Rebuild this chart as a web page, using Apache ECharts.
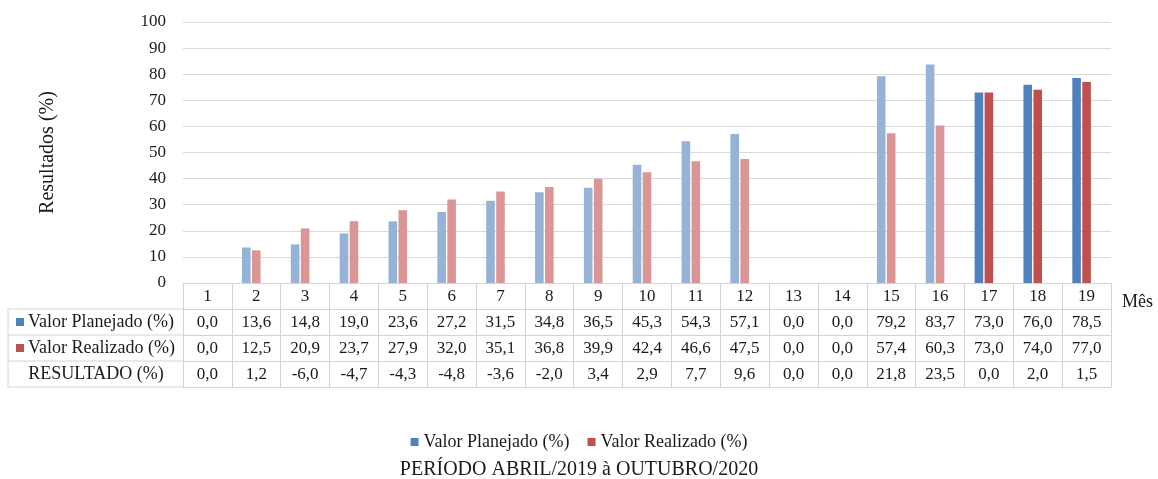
<!DOCTYPE html>
<html>
<head>
<meta charset="utf-8">
<script src="https://cdn.jsdelivr.net/npm/echarts@6/dist/echarts.min.js"></script>
<style>
  html, body { margin: 0; padding: 0; background: #fff; }
  #chart { width: 1158px; height: 479px; }
</style>
</head>
<body>
<div id="chart"></div>
<script>
var meses = ['1','2','3','4','5','6','7','8','9','10','11','12','13','14','15','16','17','18','19'];
var planejado = [0.0, 13.6, 14.8, 19.0, 23.6, 27.2, 31.5, 34.8, 36.5, 45.3, 54.3, 57.1, 0.0, 0.0, 79.2, 83.7, 73.0, 76.0, 78.5];
var realizado = [0.0, 12.5, 20.9, 23.7, 27.9, 32.0, 35.1, 36.8, 39.9, 42.4, 46.6, 47.5, 0.0, 0.0, 57.4, 60.3, 73.0, 74.0, 77.0];
var resultado = [0.0, 1.2, -6.0, -4.7, -4.3, -4.8, -3.6, -2.0, 3.4, 2.9, 7.7, 9.6, 0.0, 0.0, 21.8, 23.5, 0.0, 2.0, 1.5];
var yTicks = [0, 10, 20, 30, 40, 50, 60, 70, 80, 90, 100];

var FONT = '"Liberation Serif", "Times New Roman", serif';
var AZUL = '#4F81BD', AZUL_CLARO = '#95B3D7';
var VERMELHO = '#C0504D', VERMELHO_CLARO = '#D99694';
var LINHA = '#d4d4d4';
var TXT = '#1a1a1a';

var gridLeft = 183, gridTop = 22, rowH = 26, axisY = 283;

function fmt(v) { return v.toFixed(1).replace('.', ','); }

// meses 17-19 em cor cheia, demais em tom claro
function pinta(vals, forte, claro) {
  return vals.map(function(v, i) {
    return { value: v, itemStyle: { color: i >= 16 ? forte : claro } };
  });
}

function linhaTabela(offset, labels) {
  return {
    type: 'category', data: meses, position: 'bottom', offset: offset, gridIndex: 0,
    axisLine: { show: true, lineStyle: { color: LINHA, width: 1 } },
    axisTick: { show: false },
    axisLabel: labels ? {
      show: true, margin: 5, fontFamily: FONT, fontSize: 17, color: TXT,
      interval: 0,
      formatter: function(v, i) { return labels[i]; }
    } : { show: false }
  };
}

var rowHeaders = [
  { text: 'Valor Planejado (%)', cor: AZUL },
  { text: 'Valor Realizado (%)', cor: VERMELHO },
  { text: 'RESULTADO (%)', cor: null }
];

var graphics = [];
// bordas da coluna de títulos das linhas
[1, 2, 3, 4].forEach(function(k) {
  graphics.push({ type: 'line', shape: { x1: 8, y1: axisY + k * rowH, x2: gridLeft, y2: axisY + k * rowH },
    style: { stroke: LINHA, lineWidth: 1 } });
});
graphics.push({ type: 'line', shape: { x1: 8, y1: axisY + rowH, x2: 8, y2: axisY + 4 * rowH },
  style: { stroke: LINHA, lineWidth: 1 } });
rowHeaders.forEach(function(h, k) {
  var cy = axisY + (k + 1) * rowH + rowH / 2;
  if (h.cor) {
    graphics.push({ type: 'rect', shape: { x: 16, y: cy - 4, width: 8, height: 8 }, style: { fill: h.cor } });
    graphics.push({ type: 'text', x: 28, y: cy, style: { text: h.text, font: '18px ' + FONT, fill: TXT, verticalAlign: 'middle' } });
  } else {
    graphics.push({ type: 'text', x: 96, y: cy, style: { text: h.text, font: '18px ' + FONT, fill: TXT, verticalAlign: 'middle', align: 'center' } });
  }
});

var chart = echarts.init(document.getElementById('chart'));
chart.setOption({
  backgroundColor: '#fff',
  animation: false,
  title: {
    text: 'PERÍODO ABRIL/2019 à OUTUBRO/2020',
    left: 'center', top: 455,
    textStyle: { fontFamily: FONT, fontSize: 20, fontWeight: 'normal', color: TXT }
  },
  legend: {
    data: ['Valor Planejado (%)', 'Valor Realizado (%)'],
    top: 428, left: 'center',
    icon: 'rect', itemWidth: 8, itemHeight: 8, itemGap: 18,
    textStyle: { fontFamily: FONT, fontSize: 18, color: TXT }
  },
  grid: { left: gridLeft, right: 47, top: gridTop, bottom: 479 - axisY },
  xAxis: [
    {
      type: 'category', data: meses, position: 'bottom',
      name: 'Mês', nameLocation: 'end', nameGap: 11,
      nameTextStyle: { fontFamily: FONT, fontSize: 18, color: TXT, verticalAlign: 'top', padding: [10, 0, 0, 0] },
      axisLine: { show: true, lineStyle: { color: LINHA, width: 1 } },
      axisTick: { show: true, length: 4 * rowH, lineStyle: { color: LINHA } },
      axisLabel: { margin: 5, fontFamily: FONT, fontSize: 17, color: TXT, interval: 0 }
    },
    linhaTabela(rowH, planejado.map(fmt)),
    linhaTabela(2 * rowH, realizado.map(fmt)),
    linhaTabela(3 * rowH, resultado.map(fmt)),
    linhaTabela(4 * rowH, null)
  ],
  yAxis: {
    type: 'value', min: yTicks[0], max: yTicks[yTicks.length - 1], interval: 10,
    name: 'Resultados (%)', nameLocation: 'middle', nameGap: 125,
    nameTextStyle: { fontFamily: FONT, fontSize: 20, color: TXT },
    axisLine: { show: false }, axisTick: { show: false },
    axisLabel: { margin: 17, fontFamily: FONT, fontSize: 17, color: TXT },
    splitLine: { lineStyle: { color: '#d9d9d9', width: 1 } }
  },
  series: [
    { name: 'Valor Planejado (%)', type: 'bar', xAxisIndex: 0, barWidth: 8.6, barGap: '16%',
      itemStyle: { color: AZUL }, data: pinta(planejado, AZUL, AZUL_CLARO) },
    { name: 'Valor Realizado (%)', type: 'bar', xAxisIndex: 0, barWidth: 8.6, barGap: '16%',
      itemStyle: { color: VERMELHO }, data: pinta(realizado, VERMELHO, VERMELHO_CLARO) },
    // série RESULTADO: só aparece na tabela, sem preenchimento
    { name: 'RESULTADO (%)', type: 'bar', xAxisIndex: 0, barWidth: 8.6, barGap: '16%',
      itemStyle: { color: 'rgba(0,0,0,0)' }, data: resultado, silent: true }
  ],
  graphic: graphics
});
</script>
</body>
</html>
